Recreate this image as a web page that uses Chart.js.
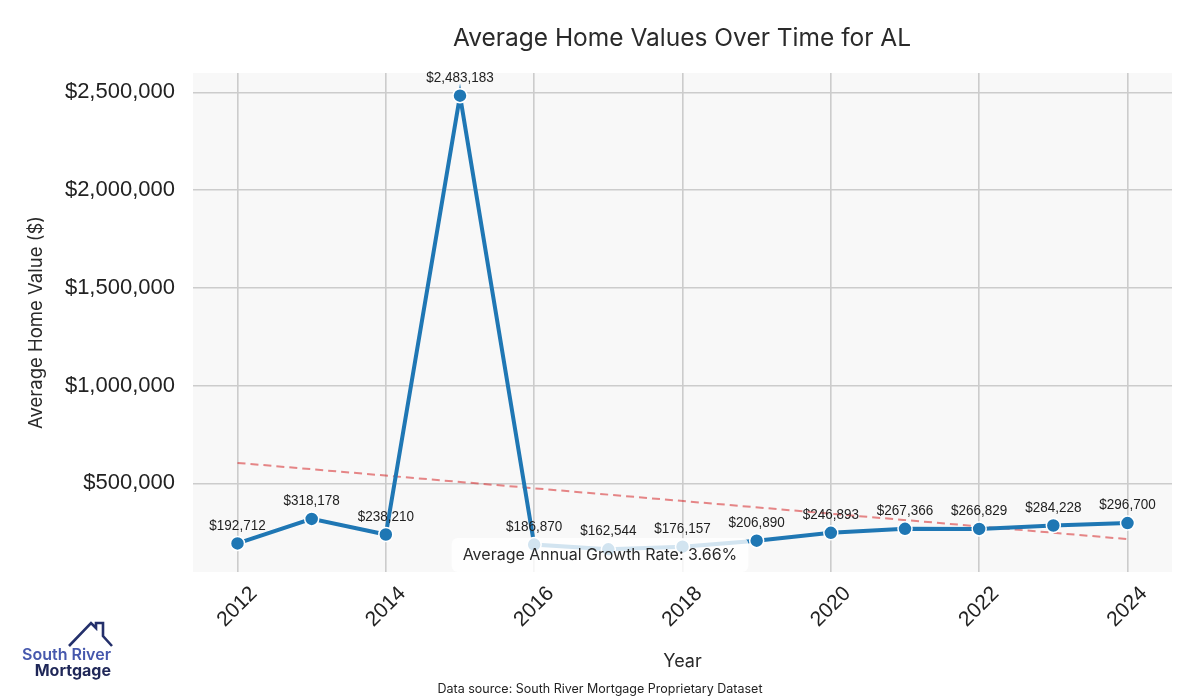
<!DOCTYPE html>
<html lang="en">
<head>
  <meta charset="UTF-8">
  <script src="https://cdn.jsdelivr.net/npm/chart.js"></script>
  <title>Average Home Values Over Time for AL</title>
  <style>
    body { margin: 0; background: #fff; }
    #wrap { position: relative; width: 1200px; height: 700px; }
    #myChart { position: absolute; left: 0; top: 0; }
    .txt { position: absolute; color: #2a2a2a; font-family: Inter, "Open Sans", sans-serif; white-space: nowrap; }
    #mainTitle { top: 22px; left: 682px; transform: translateX(-50%); font-size: 24.5px; letter-spacing: 0; }
    #source { top: 681px; left: 600px; transform: translateX(-50%); font-size: 12.5px; color: #222; }
    #logo { position: absolute; left: 18px; top: 618px; width: 100px; height: 62px; }
  </style>
</head>
<body>
<div id="wrap">
  <canvas id="myChart" width="1200" height="700"></canvas>
  <div class="txt" id="mainTitle">Average Home Values Over Time for AL</div>
  <div class="txt" id="source">Data source: South River Mortgage Proprietary Dataset</div>
  <svg id="logo" viewBox="18 618 100 62">
    <polyline points="69,646 91,623 96,628 96,623 103,623 103,636 112,646" fill="none" stroke="#24306b" stroke-width="2.6" stroke-linejoin="miter"/>
    <text x="111" y="660" text-anchor="end" font-family="Inter, sans-serif" font-weight="600" font-size="16" fill="#4658ad">South River</text>
    <text x="111" y="676" text-anchor="end" font-family="Inter, sans-serif" font-weight="700" font-size="16" fill="#1f2758">Mortgage</text>
  </svg>
</div>

<script>
var years = [2012, 2013, 2014, 2015, 2016, 2017, 2018, 2019, 2020, 2021, 2022, 2023, 2024];
var homeValues = [192712, 318178, 238210, 2483183, 186870, 162544, 176157, 206890, 246893, 267366, 266829, 284228, 296700];
// linear trend end points (2012 -> 2024)
var trendYears = [2012, 2024];
var trendValues = [604733, 214769];
var xTickValues = [2012, 2014, 2016, 2018, 2020, 2022, 2024];
var yTickValues = [500000, 1000000, 1500000, 2000000, 2500000];
var growthText = 'Average Annual Growth Rate: 3.66%';

function money(v) {
  return '$' + Math.round(v).toLocaleString('en-US');
}

const plotBg = {
  id: 'plotBg',
  beforeDraw(chart) {
    const a = chart.chartArea, ctx = chart.ctx;
    ctx.save();
    ctx.fillStyle = '#f8f8f8';
    ctx.fillRect(a.left, a.top, a.right - a.left, a.bottom - a.top);
    ctx.restore();
  }
};

const extras = {
  id: 'extras',
  afterDatasetsDraw(chart) {
    const ctx = chart.ctx;
    const meta = chart.getDatasetMeta(1);
    ctx.save();
    // value labels (narrow look: squeeze horizontally)
    ctx.font = '15px "Liberation Sans", Arial, sans-serif';
    ctx.fillStyle = '#222';
    ctx.textAlign = 'center';
    ctx.textBaseline = 'middle';
    meta.data.forEach(function (pt, i) {
      ctx.save();
      ctx.translate(pt.x, pt.y - 18);
      ctx.scale(0.9, 1);
      ctx.fillText(money(homeValues[i]), 0, 0);
      ctx.restore();
    });
    // growth rate box
    ctx.font = '16px Inter, "Open Sans", sans-serif';
    const w = ctx.measureText(growthText).width + 22;
    const cx = chart.width / 2, cy = 555;
    ctx.fillStyle = 'rgba(255,255,255,0.8)';
    ctx.beginPath();
    ctx.roundRect(cx - w / 2, cy - 17, w, 34, 6);
    ctx.fill();
    ctx.fillStyle = '#2a2a2a';
    ctx.fillText(growthText, cx, cy);
    ctx.restore();
  },
  afterDraw(chart) {
    // rotated year labels centred under each tick
    const ctx = chart.ctx, xs = chart.scales.x;
    ctx.save();
    ctx.font = '21px "Liberation Sans", Arial, sans-serif';
    ctx.fillStyle = '#222';
    ctx.textAlign = 'center';
    ctx.textBaseline = 'middle';
    xTickValues.forEach(function (yr) {
      ctx.save();
      ctx.translate(xs.getPixelForValue(yr), 607);
      ctx.rotate(-Math.PI / 4);
      ctx.fillText(String(yr), 0, 0);
      ctx.restore();
    });
    ctx.restore();
  }
};

const ctx = document.getElementById('myChart');
new Chart(ctx, {
  type: 'line',
  data: {
    datasets: [{
      label: 'trend',
      data: trendYears.map(function (y, i) { return { x: y, y: trendValues[i] }; }),
      borderColor: 'rgba(214,39,40,0.55)',
      borderWidth: 2,
      borderDash: [8, 5],
      pointRadius: 0,
      order: 2
    }, {
      label: 'Average Home Value',
      data: years.map(function (y, i) { return { x: y, y: homeValues[i] }; }),
      borderColor: '#1f77b4',
      borderWidth: 4,
      pointRadius: 7,
      pointBackgroundColor: '#1f77b4',
      pointBorderColor: '#ffffff',
      pointBorderWidth: 1.5,
      order: 1
    }]
  },
  options: {
    responsive: false,
    animation: false,
    layout: { padding: { top: 73, right: 28, left: 0, bottom: 0 } },
    plugins: { legend: { display: false }, tooltip: { enabled: false } },
    scales: {
      x: {
        type: 'linear',
        min: 2011.4,
        max: 2024.6,
        afterFit: function (s) { s.height = 128; },
        afterBuildTicks: function (s) { s.ticks = xTickValues.map(function (v) { return { value: v }; }); },
        grid: { color: '#cccccc', lineWidth: 1.6, drawTicks: false },
        border: { display: false },
        ticks: { display: false },
        title: { display: true, text: 'Year', color: '#2a2a2a', padding: { top: 0, bottom: 28 },
          font: { family: 'Inter, "Open Sans", sans-serif', size: 18 } }
      },
      y: {
        min: 46512,
        max: 2599215,
        afterFit: function (s) { s.width = 193; },
        afterBuildTicks: function (s) { s.ticks = yTickValues.map(function (v) { return { value: v }; }); },
        grid: { color: '#cccccc', lineWidth: 1.6, drawTicks: false },
        border: { display: false },
        ticks: {
          color: '#222',
          padding: 18,
          font: { family: '"Liberation Sans", Arial, sans-serif', size: 22 },
          callback: function (v) { return money(v); }
        },
        title: { display: true, text: 'Average Home Value ($)', color: '#2a2a2a', padding: { top: 25, bottom: 0 },
          font: { family: 'Inter, "Open Sans", sans-serif', size: 18.5 } }
      }
    }
  },
  plugins: [plotBg, extras]
});
</script>
</body>
</html>
